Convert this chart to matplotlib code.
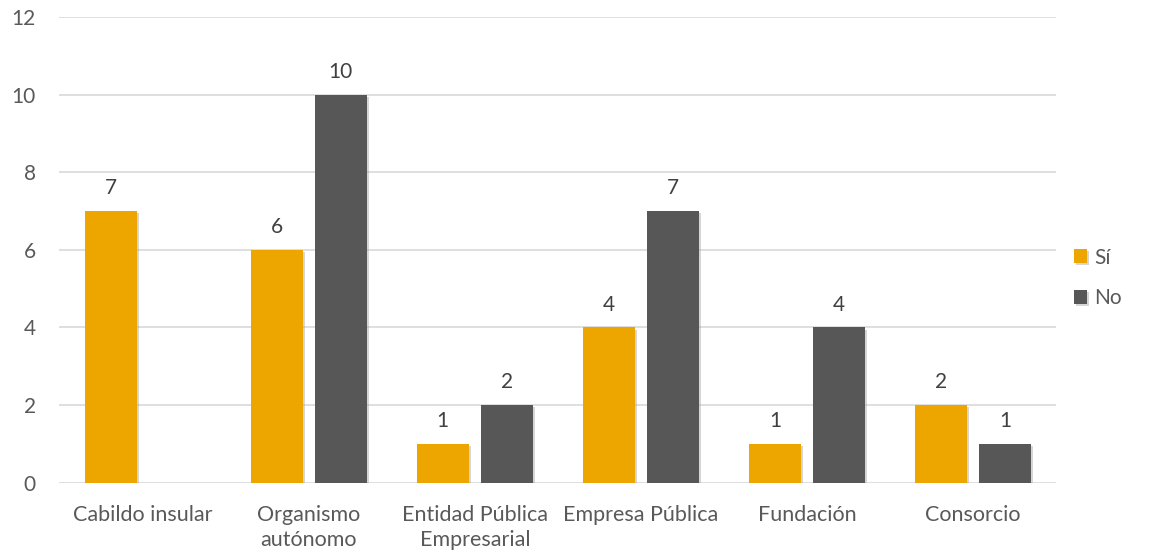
import matplotlib.pyplot as plt
import matplotlib.patheffects as pe
import numpy as np

plt.rcParams['font.family'] = ['Lato', 'DejaVu Sans']

categorias = ['Cabildo insular', 'Organismo\nautónomo', 'Entidad Pública\nEmpresarial',
              'Empresa Pública', 'Fundación', 'Consorcio']
si = [7, 6, 1, 4, 1, 2]
no = [0, 10, 2, 7, 4, 1]

c_si = '#EDA600'
c_no = '#575757'
c_txt = '#595959'

fig = plt.figure(figsize=(11.53, 5.56), dpi=100)
ax = fig.add_axes([0.0516, 0.1318, 0.8644, 0.8376])

x = np.arange(len(categorias))
w = 0.313
off = 0.1925
sombra = [pe.SimplePatchShadow(offset=(1.5, -1.5), shadow_rgbFace='#999999', alpha=0.4), pe.Normal()]
b1 = ax.bar(x - off, si, w, color=c_si, label='Sí', zorder=3)
b2 = ax.bar(x + off, no, w, color=c_no, label='No', zorder=3)
for b in list(b1) + list(b2):
    b.set_path_effects(sombra)

for bars, vals in ((b1, si), (b2, no)):
    for b, v in zip(bars, vals):
        if v > 0:
            ax.text(b.get_x() + b.get_width() / 2, v + 0.33, str(v), ha='center', va='bottom',
                    fontsize=15, color='#404040')

ax.set_xlim(-0.5, len(categorias) - 0.5)
ax.set_ylim(0, 12)
ax.set_yticks(range(0, 13, 2))
ax.set_xticks(x)
ax.set_xticklabels(categorias, fontsize=15.5, color=c_txt, linespacing=1.3)
ax.tick_params(axis='y', labelsize=15, labelcolor=c_txt, length=0, pad=17)
ax.tick_params(axis='x', length=0, pad=16)
ax.grid(axis='y', color='#D9D9D9', linewidth=1.2, zorder=0)
for s in ax.spines.values():
    s.set_visible(False)

fig.legend(handles=[b1, b2], labels=['Sí', 'No'], loc='center left', bbox_to_anchor=(0.915, 0.5),
           frameon=False, fontsize=15, handlelength=0.65, handleheight=0.65, handletextpad=0.35,
           labelspacing=1.0, labelcolor=c_txt)

fig.savefig('out.png', dpi=100)
